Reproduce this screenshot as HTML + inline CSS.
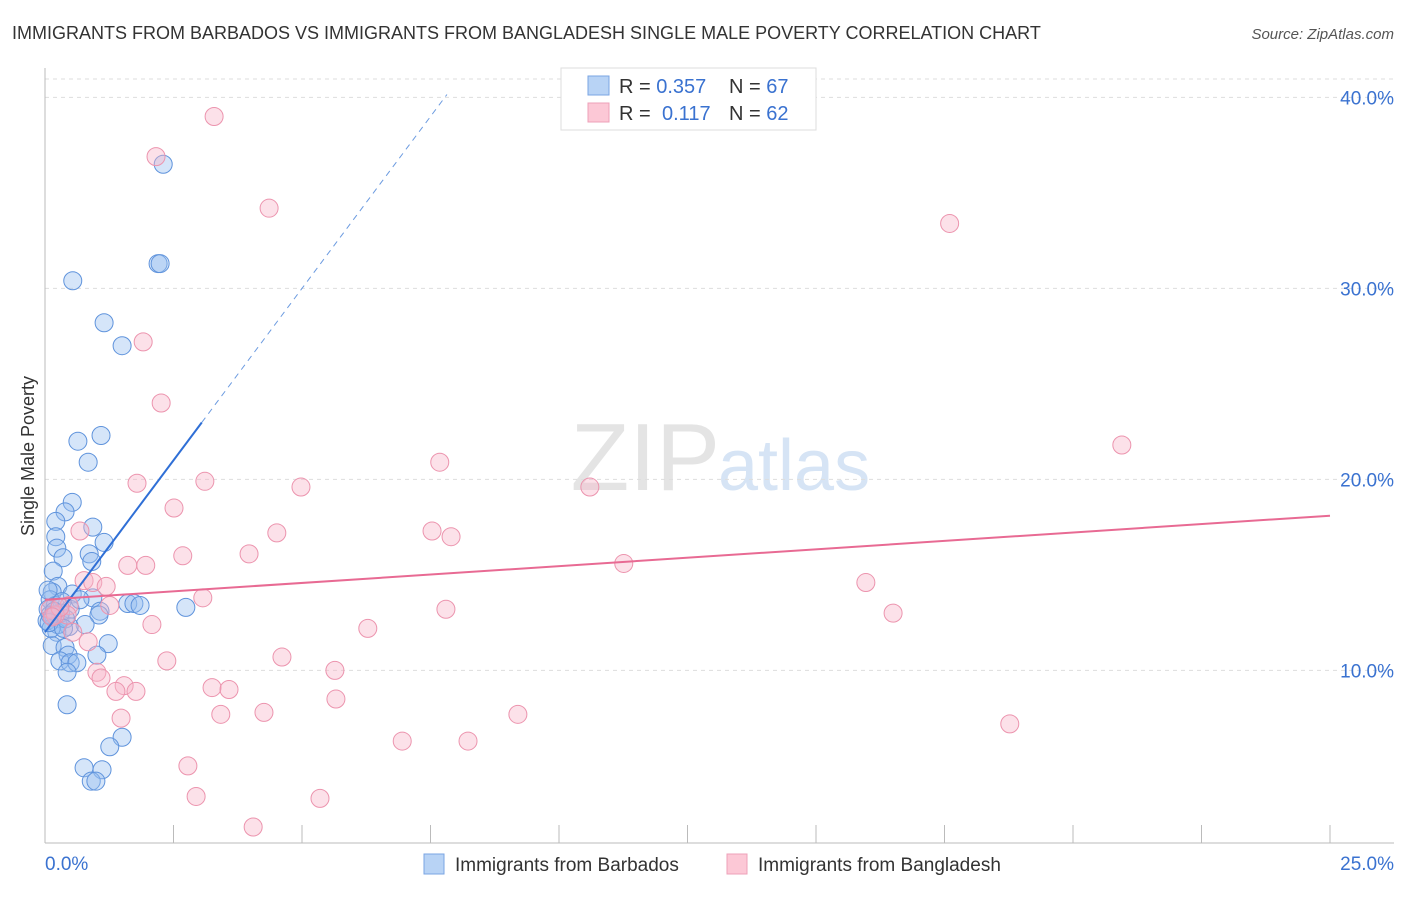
<!DOCTYPE html>
<html><head><meta charset="utf-8"><style>
body{margin:0;background:#fff;font-family:"Liberation Sans",sans-serif;}
svg text{font-family:"Liberation Sans",sans-serif;}
</style></head><body>
<svg width="1406" height="892" viewBox="0 0 1406 892" xmlns="http://www.w3.org/2000/svg">
<text x="12" y="39" font-size="18" fill="#333">IMMIGRANTS FROM BARBADOS VS IMMIGRANTS FROM BANGLADESH SINGLE MALE POVERTY CORRELATION CHART</text>
<text x="1394" y="39" font-size="15" fill="#555" text-anchor="end" font-style="italic">Source: ZipAtlas.com</text>
<text x="720" y="490" font-size="96" fill="#e4e4e4" text-anchor="end" font-family="Liberation Serif">ZIP</text>
<text x="718" y="490" font-size="72" fill="#d6e4f5">atlas</text>
<g id="grid"></g>
<g id="axes"></g>
<g id="pts"></g>
<g id="lines"></g>
<text x="34" y="456" font-size="18" fill="#333" text-anchor="middle" transform="rotate(-90 34 456)">Single Male Poverty</text>
<g>
<rect x="561" y="68" width="255" height="62" fill="#fff" stroke="#ddd"/>
<rect x="588" y="76" width="21" height="19" fill="#b8d3f5" stroke="#7aa5e3"/>
<rect x="588" y="103" width="21" height="19" fill="#fcc8d6" stroke="#eea0b8"/>
<text x="619" y="93" font-size="20" fill="#333">R = <tspan fill="#3a72d0">0.357</tspan><tspan x="729">N = </tspan><tspan fill="#3a72d0">67</tspan></text>
<text x="619" y="120" font-size="20" fill="#333">R = <tspan x="662" fill="#3a72d0">0.117</tspan><tspan x="729">N = </tspan><tspan fill="#3a72d0">62</tspan></text>
</g>
<g>
<rect x="424" y="854" width="20" height="20" fill="#b8d3f5" stroke="#7aa5e3"/>
<text x="455" y="871" font-size="19" fill="#333">Immigrants from Barbados</text>
<rect x="727" y="854" width="20" height="20" fill="#fcc8d6" stroke="#eea0b8"/>
<text x="758" y="871" font-size="19" fill="#333">Immigrants from Bangladesh</text>
</g>
<script>
const yTicks=[10,20,30,40];
const yTickLabels=["10.0%","20.0%","30.0%","40.0%"];
const xTickLabels=["0.0%","25.0%"];
const barbadosX=[2.30,2.20,2.24,0.54,1.15,1.50,1.09,0.64,0.84,0.53,0.39,0.21,0.93,0.21,1.15,0.23,0.86,0.35,0.91,0.16,0.25,0.14,0.53,0.93,1.61,1.73,1.85,2.74,1.07,1.05,0.29,0.78,0.47,0.23,0.14,1.23,0.39,1.01,0.45,0.29,0.49,0.62,0.43,0.43,1.50,1.26,0.76,1.11,0.90,0.99,0.10,0.20,0.06,0.33,0.16,0.04,0.25,0.49,0.68,0.06,0.12,0.30,0.40,0.10,0.18,0.08,0.36];
const barbadosY=[36.5,31.3,31.3,30.4,28.2,27.0,22.3,22.0,20.9,18.8,18.3,17.8,17.5,17.0,16.7,16.4,16.1,15.9,15.7,15.2,14.4,14.1,14.0,13.8,13.5,13.5,13.4,13.3,13.1,12.9,12.7,12.4,12.3,12.0,11.3,11.4,11.2,10.8,10.8,10.5,10.4,10.4,9.9,8.2,6.5,6.0,4.9,4.8,4.2,4.2,13.7,13.4,13.2,13.6,12.9,12.6,12.4,13.2,13.7,14.2,12.2,13.0,12.7,12.9,13.1,12.5,12.2];
const bangladeshX=[3.29,2.16,4.36,17.6,1.91,2.26,20.95,7.68,1.79,3.11,4.98,10.6,2.51,0.68,4.51,7.53,7.90,3.97,2.68,1.61,1.96,11.26,15.97,0.76,0.93,1.19,3.07,1.26,7.80,16.5,2.08,0.47,0.43,6.28,0.54,0.84,2.37,4.61,5.64,1.01,1.09,1.54,3.25,3.58,1.38,1.77,5.66,3.42,4.26,9.20,1.48,18.77,6.95,8.23,2.78,2.94,5.35,4.05,0.10,0.20,0.29,0.14];
const bangladeshY=[39.0,36.9,34.2,33.4,27.2,24.0,21.8,20.9,19.8,19.9,19.6,19.6,18.5,17.3,17.2,17.3,17.0,16.1,16.0,15.5,15.5,15.6,14.6,14.7,14.6,14.4,13.8,13.4,13.2,13.0,12.4,13.4,12.9,12.2,12.0,11.5,10.5,10.7,10.0,9.9,9.6,9.2,9.1,9.0,8.9,8.9,8.5,7.7,7.8,7.7,7.5,7.2,6.3,6.3,5.0,3.4,3.3,1.8,13.2,12.9,13.3,12.8];
const barbadosTrend=[12.0,3.6];
const bangladeshTrend=[13.7,0.176];
const NS="http://www.w3.org/2000/svg";
const xS=v=>45+v*51.4;
const yS=v=>861.4-v*19.1;
function mk(tag,attrs,parent){const e=document.createElementNS(NS,tag);for(const k in attrs)e.setAttribute(k,attrs[k]);parent.appendChild(e);return e;}
const grid=document.getElementById('grid'),axes=document.getElementById('axes'),pts=document.getElementById('pts'),lines=document.getElementById('lines');
yTicks.forEach((t,i)=>{
 const l=mk('line',{x1:45,x2:1394,y1:yS(t),y2:yS(t),stroke:'#ddd','stroke-dasharray':'4,4'},grid);
 
 
 const tx=mk('text',{x:1394,y:yS(t)+7,'font-size':19,fill:'#3a72d0','text-anchor':'end'},axes);
 tx.textContent=yTickLabels[i];
 
 
});
const tg=mk('line',{x1:45,x2:1394,y1:79,y2:79,stroke:'#ddd','stroke-dasharray':'4,4'},grid);


const ya=mk('line',{x1:45,x2:45,y1:68,y2:843,stroke:'#bbb'},axes);


const xa=mk('line',{x1:45,x2:1394,y1:843,y2:843,stroke:'#bbb'},axes);


for(let i=0;i<=10;i++){const tk=mk('line',{x1:xS(i*2.5),x2:xS(i*2.5),y1:825,y2:843,stroke:'#bbb'},axes);
 
 }
[[0,'start',45],[25,'end',1394]].forEach((a,i)=>{const tx=mk('text',{x:a[2],y:870,'font-size':19,fill:'#3a72d0','text-anchor':a[1]},axes);tx.textContent=xTickLabels[i];
 
 });
barbadosX.forEach((x,i)=>{const c=mk('circle',{cx:xS(x),cy:yS(barbadosY[i]),r:9,fill:'rgba(150,190,240,0.4)',stroke:'#5f93dc','stroke-width':1},pts);
 
 });
bangladeshX.forEach((x,i)=>{const c=mk('circle',{cx:xS(x),cy:yS(bangladeshY[i]),r:9,fill:'rgba(248,180,200,0.4)',stroke:'#ec94ae','stroke-width':1},pts);
 
 });
const bt=x=>barbadosTrend[0]+barbadosTrend[1]*x;
const l1=mk('line',{x1:xS(0),y1:yS(bt(0)),x2:xS(3.05),y2:yS(bt(3.05)),stroke:'#2f6fd6','stroke-width':2},lines);


const l2=mk('line',{x1:xS(3.05),y1:yS(bt(3.05)),x2:xS(7.82),y2:yS(bt(7.82)),stroke:'#6c9be0','stroke-width':1,'stroke-dasharray':'6,5'},lines);


const pt=x=>bangladeshTrend[0]+bangladeshTrend[1]*x;
const l3=mk('line',{x1:xS(0),y1:yS(pt(0)),x2:xS(25),y2:yS(pt(25)),stroke:'#e86a93','stroke-width':2},lines);


</script>
</svg>
</body></html>
